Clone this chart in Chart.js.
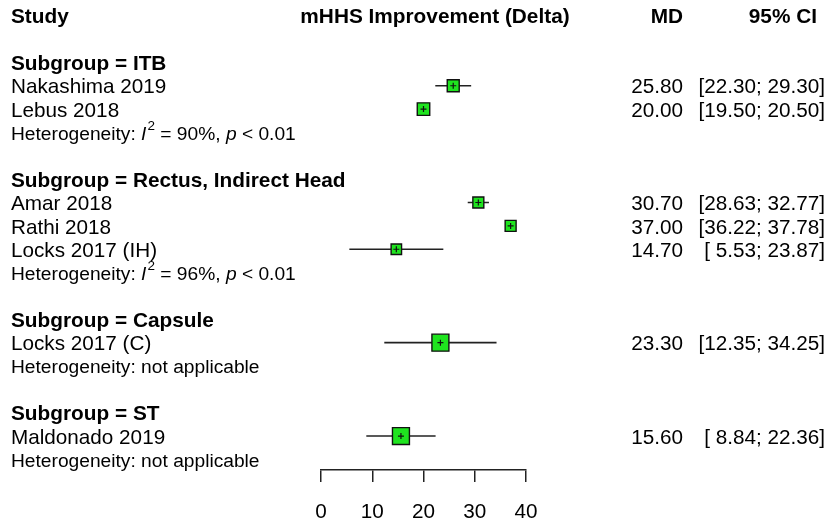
<!DOCTYPE html>
<html>
<head>
<meta charset="utf-8">
<script src="https://cdn.jsdelivr.net/npm/chart.js@4.4.1/dist/chart.umd.min.js"></script>
<style>
  html, body { margin: 0; padding: 0; background: #fff; }
  #wrap { width: 829px; height: 528px; position: relative; }
</style>
</head>
<body>
<div id="wrap"><canvas id="forest"></canvas></div>
<script>
// study-level data, in plot order
const studies = ['Nakashima 2019', 'Lebus 2018', 'Amar 2018', 'Rathi 2018', 'Locks 2017 (IH)', 'Locks 2017 (C)', 'Maldonado 2019'];
const studyGroup = ['ITB', 'ITB', 'Rectus, Indirect Head', 'Rectus, Indirect Head', 'Rectus, Indirect Head', 'Capsule', 'ST'];
const md = [25.80, 20.00, 30.70, 37.00, 14.70, 23.30, 15.60];
const ciLow = [22.30, 19.50, 28.63, 36.22, 5.53, 12.35, 8.84];
const ciHigh = [29.30, 20.50, 32.77, 37.78, 23.87, 34.25, 22.36];
const weight = [11.7, 12.7, 9.8, 9.8, 8.9, 23.5, 23.5]; // % weight, drives box size

// subgroup data
const subgroups = ['ITB', 'Rectus, Indirect Head', 'Capsule', 'ST'];
const hetI2 = [90, 96, null, null];
const hetP = ['< 0.01', '< 0.01', null, null];

const xTicks = [0, 10, 20, 30, 40];

const FONT = '"Liberation Sans", Arial, Helvetica, sans-serif';
const FS = 20.7;      // study rows
const FS_BOLD = 20.8; // headers and subgroup titles
const FS_HET = 19.2;  // heterogeneity lines
const TEXT_DY = 2;    // text sits a touch below the marks
const BOX_GREEN = '#1fe41f';

// work out which text row each thing goes on (row 0 = column headers)
let row = 2;
const studyRow = [];
const groupRow = [];
const hetRow = [];
subgroups.forEach((g) => {
    groupRow.push(row++);
    studies.forEach((s, i) => {
        if (studyGroup[i] === g) studyRow[i] = row++;
    });
    hetRow.push(row++);
    row++; // blank line
});

const ciSets = studies.map((s, i) => ({
    type: 'line',
    data: [{ x: ciLow[i], y: studyRow[i] }, { x: ciHigh[i], y: studyRow[i] }],
    borderColor: '#222',
    borderWidth: 1.6,
    pointRadius: 0,
    order: 3
}));

const boxSet = {
    type: 'scatter',
    data: md.map((v, i) => ({ x: v, y: studyRow[i] })),
    pointStyle: 'rect',
    pointRadius: weight.map(w => 3.5 * Math.sqrt(w) / Math.SQRT2),
    backgroundColor: BOX_GREEN,
    borderColor: '#111',
    borderWidth: 1.4,
    order: 2
};

const crossSet = {
    type: 'scatter',
    data: md.map((v, i) => ({ x: v, y: studyRow[i] })),
    pointStyle: 'cross',
    pointRadius: 3,
    borderColor: '#111',
    borderWidth: 1.2,
    order: 1
};

const fmt = (v) => {
    const s = v.toFixed(2);
    return s.length < 5 ? ' ' + s : s;
};

// left/right text columns, placed on the chart's y scale
const textColumns = {
    id: 'textColumns',
    afterDraw(chart) {
        const { ctx, scales: { y } } = chart;
        const yp = (r) => y.getPixelForValue(r) + TEXT_DY;
        ctx.save();
        ctx.fillStyle = '#000';
        ctx.textBaseline = 'middle';

        // headers
        ctx.font = `bold ${FS_BOLD}px ${FONT}`;
        ctx.textAlign = 'left';
        ctx.fillText('Study', 11, yp(0));
        ctx.textAlign = 'center';
        ctx.fillText('mHHS Improvement (Delta)', 435, yp(0));
        ctx.textAlign = 'right';
        ctx.fillText('MD', 683, yp(0));
        ctx.fillText('95% CI', 817, yp(0));

        subgroups.forEach((g, k) => {
            ctx.font = `bold ${FS_BOLD}px ${FONT}`;
            ctx.textAlign = 'left';
            ctx.fillText('Subgroup = ' + g, 11, yp(groupRow[k]));

            // heterogeneity line with italic I, superscript 2 and italic p
            const yy = yp(hetRow[k]);
            let cx = 11;
            const seg = (txt, font, dy) => {
                ctx.font = font;
                ctx.fillText(txt, cx, yy + (dy || 0));
                cx += ctx.measureText(txt).width;
            };
            const normal = `${FS_HET}px ${FONT}`;
            const ital = `italic ${FS_HET}px ${FONT}`;
            if (hetI2[k] === null) {
                seg('Heterogeneity: not applicable', normal);
            } else {
                seg('Heterogeneity: ', normal);
                seg('I', ital);
                cx += 1;
                seg('2', `13.5px ${FONT}`, -8);
                seg(' = ' + hetI2[k] + '%, ', normal);
                seg('p', ital);
                seg(' ' + hetP[k], normal);
            }
        });

        ctx.font = `${FS}px ${FONT}`;
        studies.forEach((s, i) => {
            const yy = yp(studyRow[i]);
            ctx.textAlign = 'left';
            ctx.fillText(s, 11, yy);
            ctx.textAlign = 'right';
            ctx.fillText(md[i].toFixed(2), 683, yy);
            ctx.fillText('[' + fmt(ciLow[i]) + '; ' + fmt(ciHigh[i]) + ']', 825, yy);
        });
        ctx.restore();
    }
};

new Chart(document.getElementById('forest'), {
    data: { datasets: [...ciSets, boxSet, crossSet] },
    options: {
        responsive: true,
        maintainAspectRatio: false,
        animation: false,
        events: [],
        layout: { padding: { left: 321, right: 303, top: 0, bottom: 0 } },
        plugins: { legend: { display: false }, tooltip: { enabled: false } },
        scales: {
            x: {
                type: 'linear',
                min: 0,
                max: 40,
                afterBuildTicks: (scale) => { scale.ticks = xTicks.map(v => ({ value: v })); },
                afterFit: (scale) => { scale.height = 58; },
                ticks: {
                    color: '#000',
                    font: { family: FONT, size: FS },
                    padding: 18,
                    maxRotation: 0
                },
                grid: {
                    drawOnChartArea: false,
                    drawTicks: true,
                    tickLength: 12,
                    color: '#222',
                    lineWidth: 1.5
                },
                border: { display: true, color: '#222', width: 1.5 }
            },
            y: {
                type: 'linear',
                display: false,
                reverse: true,
                min: -0.098,
                max: 19.453
            }
        }
    },
    plugins: [textColumns]
});
</script>
</body>
</html>
